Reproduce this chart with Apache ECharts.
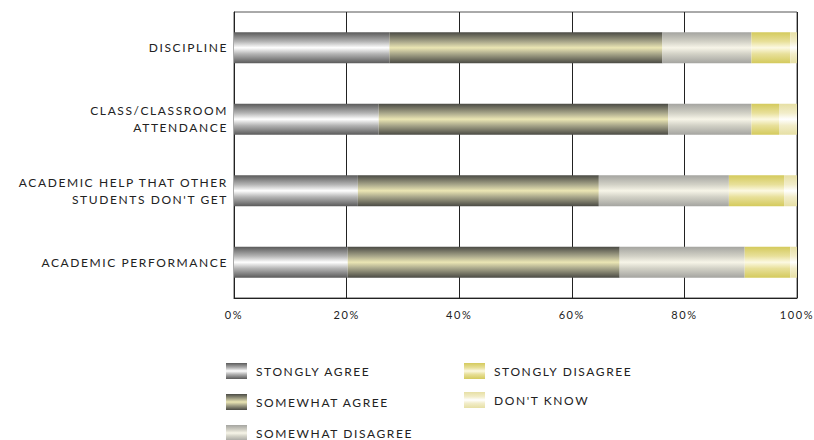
<!DOCTYPE html>
<html>
<head>
<meta charset="utf-8">
<script src="https://cdn.jsdelivr.net/npm/echarts@6/dist/echarts.min.js"></script>
<style>
  html, body { margin: 0; padding: 0; background: #fff; }
  #chart { width: 814px; height: 440px; }
  #chart text { letter-spacing: 1.6px; }
</style>
</head>
<body>
<div id="chart"></div>
<script>
var categories = ['DISCIPLINE', 'CLASS/CLASSROOM\nATTENDANCE', 'ACADEMIC HELP THAT OTHER\nSTUDENTS DON\'T GET', 'ACADEMIC PERFORMANCE'];
var stronglyAgree    = [27.6, 25.7, 22.0, 20.2];
var somewhatAgree    = [48.5, 51.4, 42.8, 48.3];
var somewhatDisagree = [15.8, 14.8, 23.1, 22.2];
var stronglyDisagree = [6.9, 4.9, 9.8, 8.1];
var dontKnow         = [1.2, 3.2, 2.3, 1.2];
var xTicks = [0, 20, 40, 60, 80, 100];

var FONT = 'Lato, "Open Sans", sans-serif';

// vertical shine: dark edges, bright middle
function shine(edge, mid, centre) {
    return {
        type: 'linear', x: 0, y: 0, x2: 0, y2: 1,
        colorStops: [
            { offset: 0, color: edge },
            { offset: 0.3, color: mid },
            { offset: 0.5, color: centre },
            { offset: 0.7, color: mid },
            { offset: 1, color: edge }
        ]
    };
}

var names = ['STONGLY AGREE', 'SOMEWHAT AGREE', 'SOMEWHAT DISAGREE', 'STONGLY DISAGREE', "DON'T KNOW"];
var values = [stronglyAgree, somewhatAgree, somewhatDisagree, stronglyDisagree, dontKnow];
var fills = [
    shine('#5a5a5a', '#b4b4b4', '#ffffff'),
    shine('#4a4a44', '#a8a68a', '#ebe6b4'),
    shine('#a4a4a0', '#d2d1c6', '#f7f5e8'),
    shine('#d4ca5c', '#e8e09a', '#fcf9e2'),
    shine('#e6dfa4', '#f2edca', '#ffffff')
];

var series = [];
for (var i = 0; i < names.length; i++) {
    series.push({
        name: names[i],
        type: 'bar',
        stack: 'total',
        barWidth: 31,
        data: values[i],
        itemStyle: { color: fills[i] },
        emphasis: { disabled: true }
    });
}

var legendText = { fontFamily: FONT, fontSize: 12, color: '#222', padding: [0, 0, 0, 4] };

var chart = echarts.init(document.getElementById('chart'), null, { renderer: 'svg' });
chart.setOption({
    animation: false,
    grid: {
        left: 234, right: 14, top: 12, bottom: 142, containLabel: false,
        show: true, borderColor: '#555', borderWidth: 1, backgroundColor: 'transparent'
    },
    legend: [{
        data: names.slice(0, 3),
        orient: 'vertical',
        left: 226, top: 363, height: 120, padding: 0,
        icon: 'rect',
        itemWidth: 21, itemHeight: 16, itemGap: 15,
        textStyle: legendText
    }, {
        data: names.slice(3),
        orient: 'vertical',
        left: 464, top: 363, height: 120, padding: 0,
        icon: 'rect',
        itemWidth: 21, itemHeight: 16, itemGap: 13,
        textStyle: legendText
    }],
    xAxis: {
        type: 'value',
        min: 0, max: 100, interval: 20,
        axisLine: { show: true, lineStyle: { color: '#222', width: 1 } },
        axisTick: { show: false },
        splitLine: { show: true, lineStyle: { color: '#222', width: 1 } },
        axisLabel: {
            fontFamily: FONT, fontSize: 11, color: '#222', margin: 11,
            formatter: function (v) { return xTicks.indexOf(v) >= 0 ? v + '%' : ''; }
        }
    },
    yAxis: {
        type: 'category',
        inverse: true,
        data: categories,
        axisLine: { show: true, lineStyle: { color: '#222', width: 1 } },
        axisTick: { show: false },
        axisLabel: {
            fontFamily: FONT, fontSize: 12, color: '#222', margin: 6,
            lineHeight: 17, align: 'right'
        }
    },
    series: series
});
</script>
</body>
</html>
